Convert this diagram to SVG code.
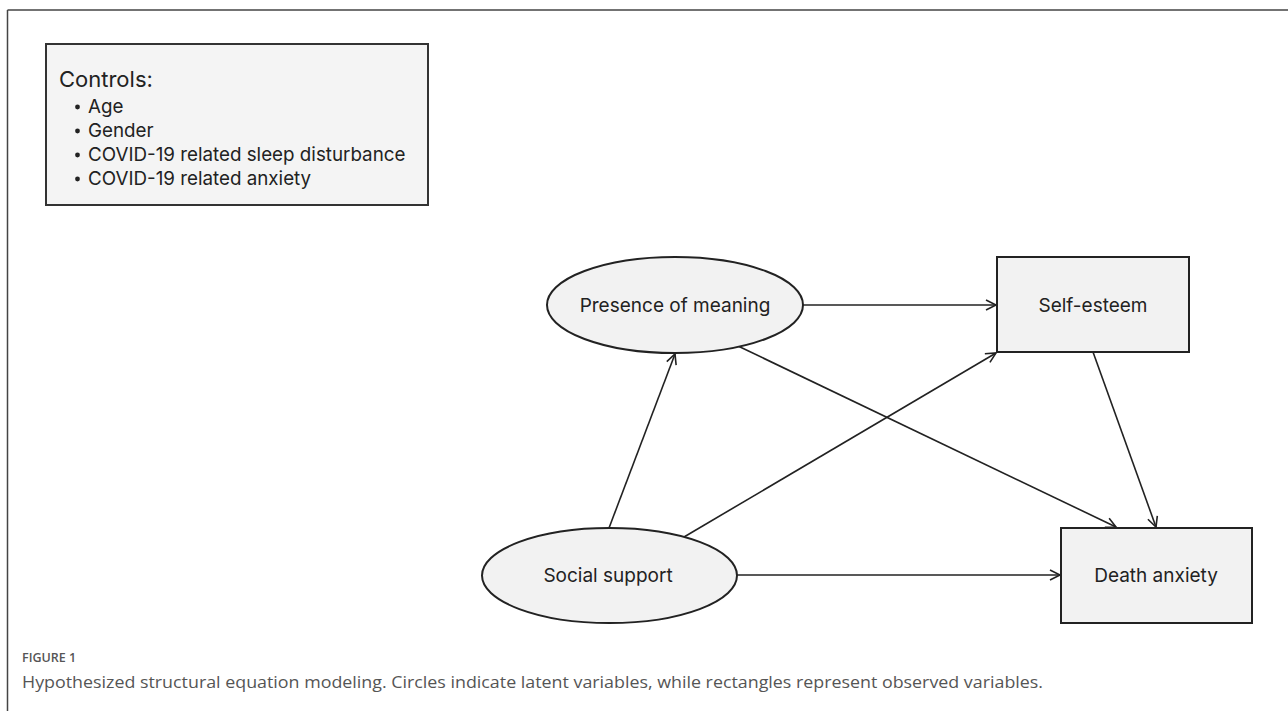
<svg xmlns="http://www.w3.org/2000/svg" width="1288" height="711" viewBox="0 0 1288 711">
<defs>
<style>
.lbl{font-family:Inter,"Noto Sans","Liberation Sans",sans-serif;fill:#222;}
.node{fill:#f2f2f2;stroke:#222;stroke-width:2;}
.edge{stroke:#222;stroke-width:1.6;fill:none;marker-end:url(#arr);}
.cap{font-family:"Open Sans","Liberation Sans",sans-serif;fill:#555;}
</style>
<marker id="arr" markerUnits="userSpaceOnUse" markerWidth="14" markerHeight="14" refX="11" refY="6" orient="auto">
<path d="M1,1 L11,6 L1,11" fill="none" stroke="#222" stroke-width="1.6"/>
</marker>
</defs>
<rect width="1288" height="711" fill="#fff"/>
<g id="frame">
<line x1="7.5" y1="10" x2="1288" y2="10" stroke="#444" stroke-width="1.5"/>
<line x1="7.5" y1="10" x2="7.5" y2="711" stroke="#444" stroke-width="1.5"/>
</g>
<g id="controls">
<rect x="46" y="44" width="382" height="161" fill="#f4f4f4" stroke="#333" stroke-width="2"/>
<text class="lbl" x="59" y="87" font-size="22">Controls:</text>
<g class="lbl" font-size="18.8">
<circle cx="77.5" cy="107" r="2.4" fill="#222"/>
<text x="88" y="113">Age</text>
<circle cx="77.5" cy="131" r="2.4" fill="#222"/>
<text x="88" y="137">Gender</text>
<circle cx="77.5" cy="155" r="2.4" fill="#222"/>
<text x="88" y="161">COVID-19 related sleep disturbance</text>
<circle cx="77.5" cy="179" r="2.4" fill="#222"/>
<text x="88" y="185">COVID-19 related anxiety</text>
</g>
</g>
<g id="connectors">
<line class="edge" x1="803" y1="305" x2="996" y2="305"/>
<line class="edge" x1="738" y1="346" x2="1116" y2="527"/>
<line class="edge" x1="609" y1="528" x2="675" y2="354"/>
<line class="edge" x1="684" y1="537" x2="996" y2="353"/>
<line class="edge" x1="1093" y1="352" x2="1156" y2="527"/>
<line class="edge" x1="737" y1="575" x2="1060" y2="575"/>
</g>
<g id="presence">
<ellipse class="node" cx="675" cy="305" rx="128" ry="48"/>
<text class="lbl" x="675" y="312" font-size="19" text-anchor="middle">Presence of meaning</text>
</g>
<g id="selfesteem">
<rect class="node" x="997" y="257" width="192" height="95"/>
<text class="lbl" x="1093" y="312" font-size="19" text-anchor="middle">Self-esteem</text>
</g>
<g id="social">
<ellipse class="node" cx="609.5" cy="575.5" rx="127.5" ry="47.5"/>
<text class="lbl" x="608" y="582" font-size="19" text-anchor="middle">Social support</text>
</g>
<g id="death">
<rect class="node" x="1061" y="528" width="191" height="95"/>
<text class="lbl" x="1156" y="582" font-size="19" text-anchor="middle">Death anxiety</text>
</g>
<g id="caption">
<text class="cap" x="22" y="662" font-size="12.5" font-weight="600">FIGURE 1</text>
<text class="cap" x="22" y="688" font-size="16" textLength="1021" lengthAdjust="spacingAndGlyphs">Hypothesized structural equation modeling. Circles indicate latent variables, while rectangles represent observed variables.</text>
</g>
</svg>
